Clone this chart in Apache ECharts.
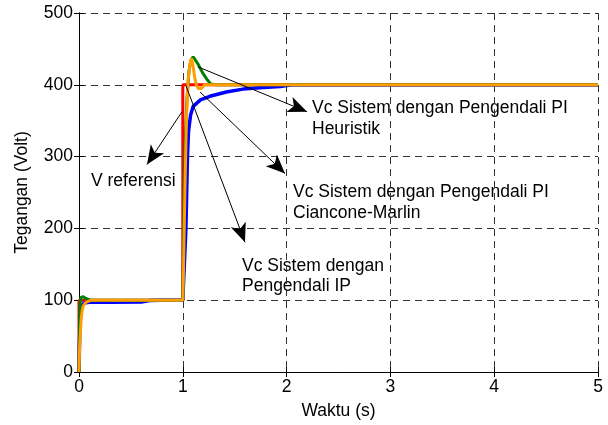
<!DOCTYPE html>
<html>
<head>
<meta charset="utf-8">
<script src="https://cdn.jsdelivr.net/npm/echarts@6/dist/echarts.min.js"></script>
<style>
  html, body { margin: 0; padding: 0; background: #fff; }
  #chart { width: 608px; height: 425px; }
</style>
</head>
<body>
<div id="chart"></div>
<script>
// ---- Data ----
const xTicks = [0, 1, 2, 3, 4, 5];
const yTicks = [0, 100, 200, 300, 400, 500];

// V referensi (red)
const refT = [0, 0, 1, 1, 5];
const refV = [0, 100, 100, 400, 400];

// Vc Sistem dengan Pengendali IP (blue)
const ipT = [0, 0.005, 0.01, 0.02, 0.03, 0.05, 0.1, 0.3, 0.6, 0.68, 0.8, 1.0,
             1.03, 1.045, 1.055, 1.075, 1.1, 1.17, 1.26, 1.42, 1.58, 1.74, 1.94, 2.05, 3, 5];
const ipV = [0, 40, 70, 88, 93, 96, 97, 97, 97.5, 99.5, 100, 100,
             200, 300, 335, 358, 370, 379, 384, 390, 394, 396, 397.5, 400, 400, 400];

// Vc Sistem dengan Pengendali PI Ciancone-Marlin (green)
const cmT = [0, 0.005, 0.01, 0.02, 0.04, 0.06, 0.09, 0.12, 0.2, 1.0,
             1.005, 1.01, 1.02, 1.04, 1.06, 1.08, 1.1, 1.15, 1.19, 1.23, 1.27, 1.32, 5];
const cmV = [0, 60, 95, 104, 105, 103, 101, 100, 100, 100,
             160, 230, 310, 380, 420, 435, 439, 428, 417, 408, 401, 400, 400];

// Vc Sistem dengan Pengendali PI Heuristik (orange)
const heT = [0, 0.005, 0.01, 0.02, 0.03, 0.04, 0.06, 0.08, 0.12, 1.0,
             1.005, 1.02, 1.035, 1.05, 1.07, 1.085, 1.1, 1.115, 1.13, 1.15, 1.18, 1.21, 5];
const heV = [0, 30, 45, 72, 85, 92, 96, 98, 100, 100,
             130, 250, 350, 405, 430, 437, 425, 410, 400, 395, 395, 400, 400];

// Annotation arrows (data coordinates: from -> tip)
const arrowFrom = [[1.146, 425], [1.166, 390], [1.031, 398.6], [0.992, 362.5]];
const arrowTo   = [[2.197, 362.5], [1.985, 276.4], [1.599, 180.6], [0.655, 288.9]];

// Annotation texts
const noteLines = ['Vc Sistem dengan Pengendali PI', 'Heuristik',
                   'Vc Sistem dengan Pengendali PI', 'Ciancone-Marlin',
                   'Vc Sistem dengan', 'Pengendali IP',
                   'V referensi'];

// ---- Layout / style ----
const FONT = '"Liberation Sans", Arial, sans-serif';
const FS = 17.5;
const notePos = [[312, 108], [312, 129], [293, 192], [293, 213], [242, 266], [242, 286], [91, 181]];

function pairs(t, v) { return t.map((x, i) => [x, v[i]]); }

const chart = echarts.init(document.getElementById('chart'), null, { renderer: 'canvas' });

const gridLine = { show: true, lineStyle: { color: '#333', width: 1, type: [7, 5] } };
const axisLine = { show: true, lineStyle: { color: '#000', width: 1 } };
const tick = { show: true, inside: true, length: 5, lineStyle: { color: '#000' } };

const option = {
  animation: false,
  backgroundColor: '#fff',
  textStyle: { fontFamily: FONT },
  grid: { left: 79, right: 10, top: 13, bottom: 52, containLabel: false },
  xAxis: [
    {
      type: 'value', min: 0, max: 5, interval: 1, position: 'bottom',
      axisLine: axisLine, axisTick: tick, splitLine: gridLine,
      axisLabel: { color: '#000', fontSize: FS, fontFamily: FONT, margin: 6 },
      name: 'Waktu (s)', nameLocation: 'middle', nameGap: 30,
      nameTextStyle: { color: '#000', fontSize: FS, fontFamily: FONT }
    },
    {
      type: 'value', min: 0, max: 5, interval: 1, position: 'top',
      axisLine: axisLine, axisTick: tick, splitLine: { show: false },
      axisLabel: { show: false }
    }
  ],
  yAxis: [
    {
      type: 'value', min: 0, max: 500, interval: 100, position: 'left',
      axisLine: axisLine, axisTick: tick, splitLine: gridLine,
      axisLabel: { color: '#000', fontSize: FS, fontFamily: FONT, margin: 6 },
      name: 'Tegangan (Volt)', nameLocation: 'middle', nameGap: 48,
      nameTextStyle: { color: '#000', fontSize: FS, fontFamily: FONT }
    },
    {
      type: 'value', min: 0, max: 500, interval: 100, position: 'right',
      axisLine: axisLine, axisTick: tick, splitLine: { show: false },
      axisLabel: { show: false }
    }
  ],
  series: [
    { name: 'V referensi', type: 'line', data: pairs(refT, refV), showSymbol: false,
      lineStyle: { color: '#ff0000', width: 3 }, itemStyle: { color: '#ff0000' } },
    { name: 'IP', type: 'line', data: pairs(ipT, ipV), showSymbol: false,
      lineStyle: { color: '#0000ff', width: 3.5 }, itemStyle: { color: '#0000ff' } },
    { name: 'Ciancone-Marlin', type: 'line', data: pairs(cmT, cmV), showSymbol: false,
      lineStyle: { color: '#008000', width: 3 }, itemStyle: { color: '#008000' } },
    { name: 'Heuristik', type: 'line', data: pairs(heT, heV), showSymbol: false,
      lineStyle: { color: '#ff9e00', width: 3 }, itemStyle: { color: '#ff9e00' } },
    { name: 'arrows', type: 'line', data: [], silent: true,
      markLine: {
        silent: true, animation: false,
        symbol: ['none', 'arrow'], symbolSize: [12, 19],
        lineStyle: { color: '#000', width: 1, type: 'solid' },
        itemStyle: { color: '#000' },
        label: { show: false },
        emphasis: { disabled: true },
        data: arrowFrom.map((f, i) => [{ coord: f }, { coord: arrowTo[i] }])
      }
    }
  ],
  graphic: noteLines.map((t, i) => ({
    type: 'text', x: notePos[i][0], y: notePos[i][1], silent: true,
    style: { text: t, fill: '#000', font: FS + 'px ' + FONT, textVerticalAlign: 'middle', textAlign: 'left' }
  }))
};

chart.setOption(option);
</script>
</body>
</html>
